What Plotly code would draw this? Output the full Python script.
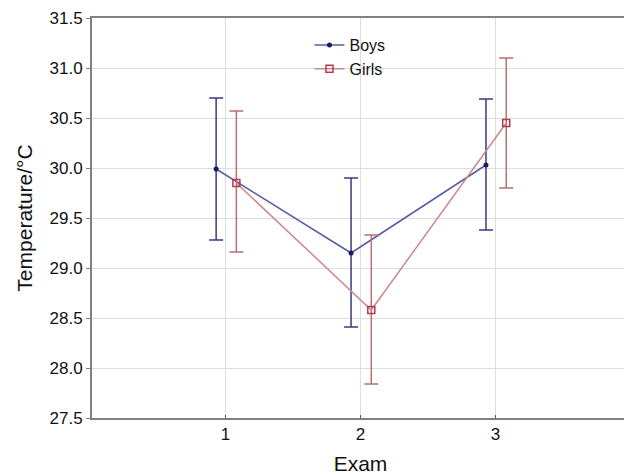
import plotly.graph_objects as go

exams = [1, 2, 3]
boys_mean = [29.99, 29.15, 30.03]
boys_upper = [30.70, 29.90, 30.69]
boys_lower = [29.28, 28.41, 29.38]
girls_mean = [29.85, 28.58, 30.45]
girls_upper = [30.57, 29.33, 31.10]
girls_lower = [29.16, 27.84, 29.80]
y_ticks = [27.5, 28.0, 28.5, 29.0, 29.5, 30.0, 30.5, 31.0, 31.5]

boys_x = [e - 0.07 for e in exams]
girls_x = [e + 0.08 for e in exams]

fig = go.Figure()
fig.add_trace(go.Scatter(
    x=boys_x, y=boys_mean, name="Boys", mode="lines+markers",
    line=dict(color="#5a5aa8", width=1.5),
    marker=dict(symbol="circle", size=5, color="#1a1a60"),
    error_y=dict(type="data", symmetric=False,
                 array=[u - m for u, m in zip(boys_upper, boys_mean)],
                 arrayminus=[m - l for m, l in zip(boys_mean, boys_lower)],
                 color="#3a3a80", thickness=1.5, width=7),
))
fig.add_trace(go.Scatter(
    x=girls_x, y=girls_mean, name="Girls", mode="lines+markers",
    line=dict(color="#c88a8a", width=1.5),
    marker=dict(symbol="square-open", size=7, color="#b03a50", line=dict(width=1.5)),
    error_y=dict(type="data", symmetric=False,
                 array=[u - m for u, m in zip(girls_upper, girls_mean)],
                 arrayminus=[m - l for m, l in zip(girls_mean, girls_lower)],
                 color="#b87070", thickness=1.5, width=7),
))

# page body has an 8px default margin, compensated here
fig.update_layout(
    width=624, height=467,
    margin=dict(l=84, r=3, t=10, b=57, autoexpand=False),
    paper_bgcolor="white", plot_bgcolor="white",
    font=dict(family="Liberation Sans, Arial, sans-serif", size=16, color="#111"),
    showlegend=True,
    legend=dict(x=0.405, y=0.975, xanchor="left", yanchor="top",
                bgcolor="rgba(0,0,0,0)", font=dict(size=16),
                tracegroupgap=0, itemwidth=30),
)
fig.update_xaxes(
    range=[0.01, 3.99], tickvals=exams, ticktext=[str(e) for e in exams],
    title=dict(text="Exam", font=dict(size=21), standoff=15),
    showgrid=True, gridcolor="#dddddd", gridwidth=1,
    showline=True, linecolor="#808080", linewidth=2, mirror=True,
    ticks="inside", ticklen=3, tickcolor="#555", zeroline=False,
    tickfont=dict(size=17), automargin=False,
)
fig.update_yaxes(
    range=[27.5, 31.5], tickvals=y_ticks, ticktext=[f"{v:.1f}" for v in y_ticks],
    title=dict(text="Temperature/°C", font=dict(size=21), standoff=11),
    showgrid=True, gridcolor="#dddddd", gridwidth=1,
    showline=True, linecolor="#808080", linewidth=2, mirror=True,
    ticks="outside", ticklen=4, tickcolor="#808080", zeroline=False,
    tickfont=dict(size=17), automargin=False,
)

fig.write_html("out.html")
